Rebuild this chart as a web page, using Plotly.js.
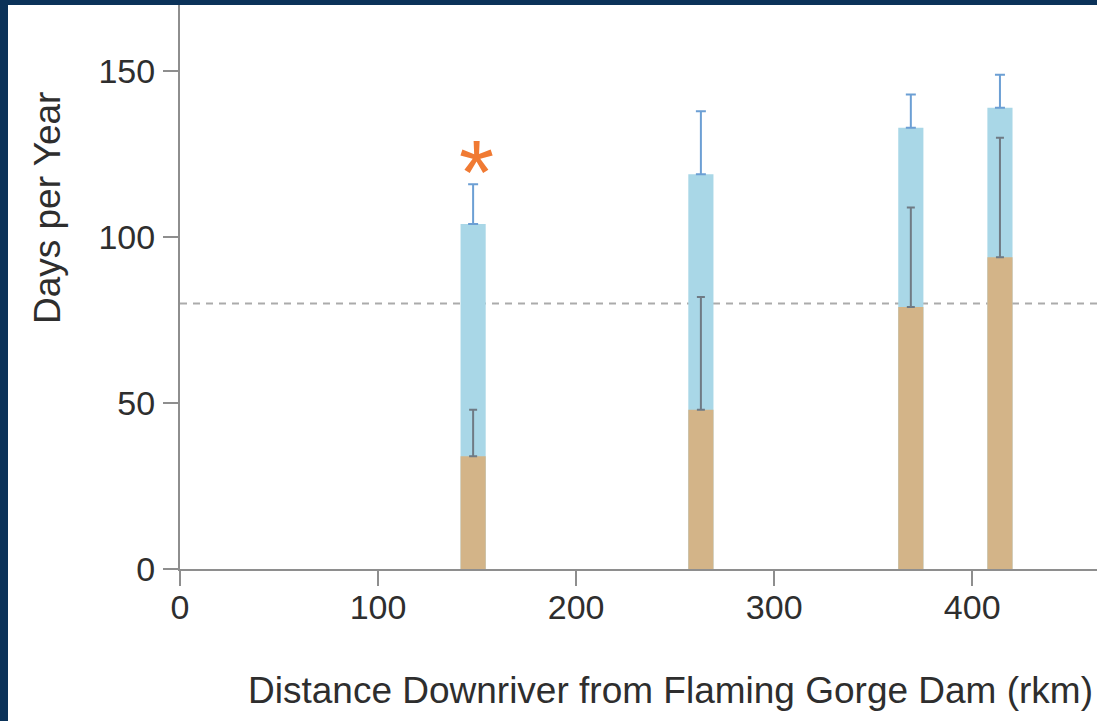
<!DOCTYPE html>
<html>
<head>
<meta charset="utf-8">
<script src="https://cdn.plot.ly/plotly-3.0.1.min.js"></script>
<style>
  html, body { margin: 0; padding: 0; width: 1097px; height: 721px; overflow: hidden; background: #0b3259; }
  #chart { position: absolute; left: 8px; top: 5px; width: 1089px; height: 716px; background: #ffffff; }
</style>
</head>
<body>
<div id="chart"></div>
<script>
// Distance downriver (rkm) of each site
var distance = [148, 263, 369, 414];
// Blue bars (total days per year) and their upper error
var blueDays = [104, 119, 133, 139];
var blueErr  = [12, 19, 10, 10];
// Tan bars (days per year, subset) and their upper error
var tanDays = [34, 48, 79, 94];
var tanErr  = [14, 34, 30, 36];
// Significance marker flags
var significant = [true, false, false, false];
// Reference threshold (days per year)
var threshold = 80;
// Axis tick values and titles
var xTicks = [0, 100, 200, 300, 400];
var yTicks = [0, 50, 100, 150];
var xTitle = 'Distance Downriver from Flaming Gorge Dam (rkm)';
var yTitle = 'Days per Year';

var zeros = distance.map(function () { return 0; });
var axisColor = '#8e8e8e';
var textColor = '#2e2e2e';
var fontFam = '"Liberation Sans", Arial, Helvetica, sans-serif';

var traces = [
  {
    type: 'bar', x: distance, y: blueDays, width: 12.7,
    marker: { color: '#a9d7e7', line: { width: 0 } },
    error_y: { type: 'data', symmetric: false, array: blueErr, arrayminus: zeros,
               color: '#6c9fd4', thickness: 2, width: 5 },
    hoverinfo: 'skip', showlegend: false
  },
  {
    type: 'bar', x: distance, y: tanDays, width: 12.7,
    marker: { color: '#d3b488', line: { width: 0 } },
    error_y: { type: 'data', symmetric: false, array: tanErr, arrayminus: zeros,
               color: '#6f7a84', thickness: 2, width: 4 },
    hoverinfo: 'skip', showlegend: false
  }
];

var annotations = [];
distance.forEach(function (d, i) {
  if (significant[i]) {
    annotations.push({
      x: d + 1.5, y: blueDays[i] + blueErr[i] + 7, xref: 'x', yref: 'y',
      text: '*', showarrow: false, xanchor: 'center', yanchor: 'middle',
      yshift: -12,
      font: { family: fontFam, size: 90, color: '#f07a33' }
    });
  }
});
// Axis titles placed as paper annotations
annotations.push({
  xref: 'paper', yref: 'paper', x: 0.535, y: 0, yanchor: 'middle', xanchor: 'center',
  yshift: -121, text: xTitle, showarrow: false,
  font: { family: fontFam, size: 37, color: textColor }
});
annotations.push({
  xref: 'paper', yref: 'paper', x: 0, y: 0.64, xanchor: 'center', yanchor: 'middle',
  xshift: -133, textangle: -90, text: yTitle, showarrow: false,
  font: { family: fontFam, size: 37, color: textColor }
});

var layout = {
  width: 1089, height: 716,
  margin: { l: 172, r: 0, t: 0, b: 152, pad: 0 },
  paper_bgcolor: '#ffffff', plot_bgcolor: '#ffffff',
  barmode: 'overlay',
  showlegend: false,
  hovermode: false,
  font: { family: fontFam, color: textColor },
  xaxis: {
    range: [0, 463], tickvals: xTicks, ticktext: xTicks.map(String),
    showline: true, linecolor: axisColor, linewidth: 2,
    ticks: 'outside', ticklen: 15, tickwidth: 2, tickcolor: axisColor,
    showgrid: false, zeroline: false,
    tickfont: { size: 34, color: textColor, family: fontFam },
    ticklabelstandoff: -8
  },
  yaxis: {
    range: [0, 170], tickvals: yTicks, ticktext: yTicks.map(String),
    showline: true, linecolor: axisColor, linewidth: 2,
    ticks: 'outside', ticklen: 15, tickwidth: 2, tickcolor: axisColor,
    showgrid: false, zeroline: false,
    tickfont: { size: 34, color: textColor, family: fontFam },
    ticklabelstandoff: 1
  },
  shapes: [
    { type: 'line', xref: 'paper', yref: 'y', x0: 0, x1: 1, y0: threshold, y1: threshold,
      line: { color: '#ababab', width: 2, dash: '7px,6px' }, layer: 'below' }
  ],
  annotations: annotations
};

Plotly.newPlot('chart', traces, layout, { displayModeBar: false, staticPlot: true });
</script>
</body>
</html>
